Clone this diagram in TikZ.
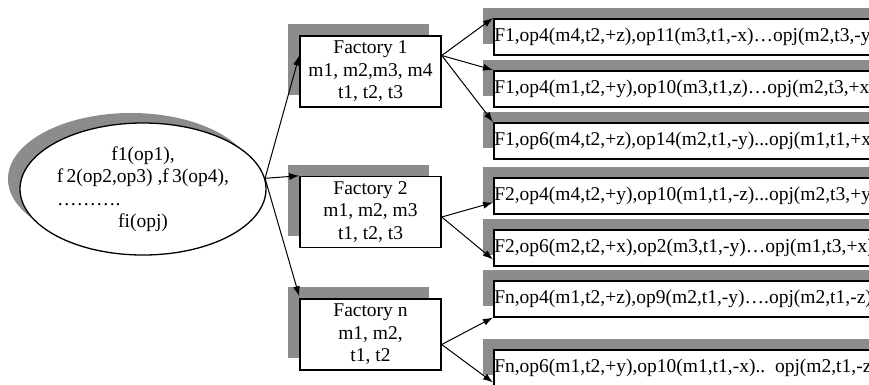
\documentclass[tikz,border=0pt]{standalone}
\usepackage{fontspec}
\setmainfont{Liberation Serif}
\usepackage{xcolor}
\usepackage{tikz}
\definecolor{shadowgray}{HTML}{8C8C8C}
\usetikzlibrary{shapes, arrows.meta, positioning, calc, shadows}

\tikzset{
    graycopy/.style 2 args={drop shadow={shadow xshift=#1, shadow yshift=#2, fill=shadowgray, opacity=1}},
    jobell/.style={draw, line width=1.3pt, ellipse, fill=white, minimum width=246pt, minimum height=132pt, align=center, inner sep=0pt, graycopy={-12pt}{10pt}},
    factbox/.style={draw, line width=1.5pt, fill=white, minimum width=141pt, minimum height=71pt, align=center, inner sep=0pt, graycopy={-12pt}{12pt}},
    seqbox/.style={draw, line width=1.5pt, fill=white, anchor=north west, text width=440pt, minimum height=36pt, align=left, inner xsep=0.5pt, inner ysep=0pt, graycopy={-11pt}{11pt}},
    link/.style={-{Latex[length=10pt, width=7pt]}, line width=1pt}
}

\begin{document}
\begin{tikzpicture}[x=1pt, y=-1pt, font=\fontsize{19.5}{22.5}\selectfont]
    \useasboundingbox (0,0) rectangle (869,384);
    \clip (0,0) rectangle (869,384);

    % Job ellipse
    \node[jobell] (jobs) at (143,189) {
        f1(op1),\\ f\,2(op2,op3) ,f\,3(op4),\\ \makebox[172pt][l]{……….}\\ fi(opj)
    };

    % Factory boxes
    \node[factbox] (fac1) at (370.5,71.5) {Factory 1\\ m1, m2,m3, m4\\ t1, t2, t3};
    \node[factbox] (fac2) at (370.5,212) {Factory 2\\ m1, m2, m3\\ t1, t2, t3};
    \node[factbox] (facn) at (370.5,334.5) {Factory n\\ m1, m2,\\ t1, t2};

    % Sequence boxes
    \node[seqbox] (seq1) at (493,18) {F1,op4(m4,t2,+z),op11(m3,t1,-x)…opj(m2,t3,-y};
    \node[seqbox] (seq2) at (493,70) {F1,op4(m1,t2,+y),op10(m3,t1,z)…opj(m2,t3,+x};
    \node[seqbox] (seq3) at (493,122) {F1,op6(m4,t2,+z),op14(m2,t1,-y)...opj(m1,t1,+x};
    \node[seqbox] (seq4) at (493,177) {F2,op4(m4,t2,+y),op10(m1,t1,-z)...opj(m2,t3,+y};
    \node[seqbox] (seq5) at (493,229) {F2,op6(m2,t2,+x),op2(m3,t1,-y)…opj(m1,t3,+x)};
    \node[seqbox] (seq6) at (493,280) {Fn,op4(m1,t2,+z),op9(m2,t1,-y)….opj(m2,t1,-z)};
    \node[seqbox] (seq7) at (493,349) {Fn,op6(m1,t2,+y),op10(m1,t1,-x).. opj(m2,t1,-z)};

    % Ellipse to factories
    \draw[link] (jobs.5) -- ([yshift=16pt]fac1.west);
    \draw[link] (jobs.5) -- (fac2.north west);
    \draw[link] (jobs.5) -- ([yshift=2pt]facn.north west);

    % Factories to sequences
    \draw[link] ([yshift=16pt]fac1.east) -- (seq1.north west);
    \draw[link] ([yshift=16pt]fac1.east) -- (seq2.north west);
    \draw[link] ([yshift=16pt]fac1.east) -- (seq3.north west);
    \draw[link] ([yshift=-5pt]fac2.east) -- ([yshift=12pt]seq4.south west);
    \draw[link] ([yshift=-5pt]fac2.east) -- ([yshift=7pt]seq5.south west);
    \draw[link] ([yshift=-10pt]facn.east) -- (seq6.south west);
    \draw[link] ([yshift=-10pt]facn.east) -- ([yshift=4pt]seq7.south west);
\end{tikzpicture}
\end{document}
